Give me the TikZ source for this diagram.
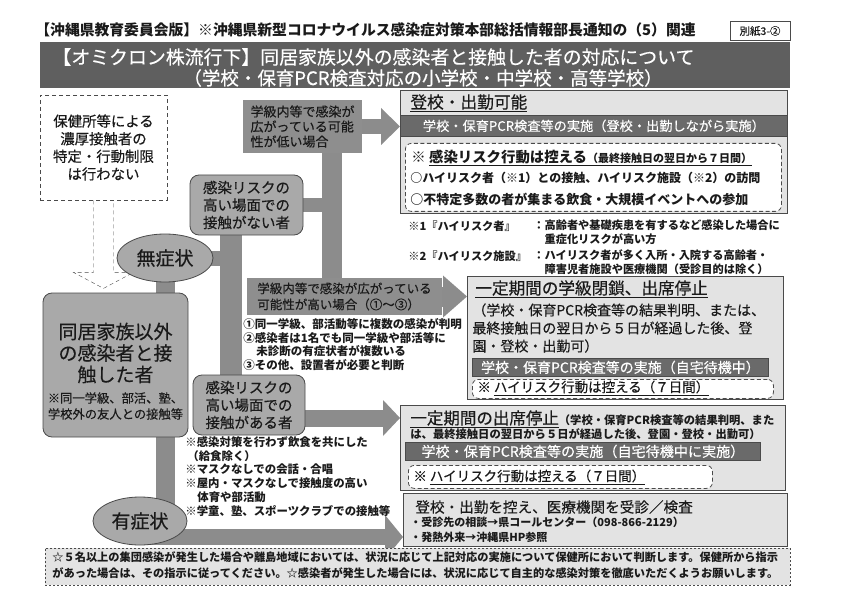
\documentclass[tikz,border=0pt]{standalone}
\usepackage{fontspec}
\setmainfont{Noto Sans CJK JP}[FakeBold=0.35, BoldFeatures={FakeBold=0}]
\usetikzlibrary{arrows.meta, shapes.geometric, calc, backgrounds}
\definecolor{cdark}{HTML}{4A4A4A}
\definecolor{cgray}{HTML}{A9A9A9}
\definecolor{cmid}{HTML}{8E8E8E}
\definecolor{cbar}{HTML}{8C8C8C}
\definecolor{clight}{HTML}{E3E3E3}
\definecolor{cband}{HTML}{6A6A6A}
\definecolor{cbanner}{HTML}{5F5F5F}
\definecolor{ctext}{HTML}{1A1A1A}
\newcommand\fsz[2]{\fontsize{#1}{#2}\selectfont}
\tikzset{
  every picture/.style={line width=0.8pt, text=ctext},
  grbox/.style={draw=cdark, fill=cgray, rounded corners=9pt, align=center, inner sep=0pt},
  oval/.style={ellipse, draw=cdark, fill=cgray, inner sep=0pt},
  casebox/.style={fill=cmid, align=left, inner sep=0pt},
  outbox/.style={draw=cdark, fill=clight, anchor=north west, inner sep=0pt},
  band/.style={draw=cdark, fill=cband, text=white, anchor=north west, inner sep=0pt},
  dashbox/.style={draw=cdark, dash pattern=on 4pt off 2.5pt, fill=white, rounded corners=6pt, anchor=north west, inner sep=0pt},
  txt/.style={anchor=west, inner sep=0pt},
  conn/.style={draw=cbar, line width=#1},
  blkhead/.style 2 args={-{Triangle[length=#1, width=#2, line width=0pt]}, },
}
\begin{document}
\begin{tikzpicture}[x=1pt, y=-1pt]
  \useasboundingbox (0,0) rectangle (843,596);

  % ---- heading
  \node[txt, font=\fsz{14.8}{16}\bfseries] (hdr) at (35,30) {【沖縄県教育委員会版】※沖縄県新型コロナウイルス感染症対策本部総括情報部長通知の（5）関連};
  \node[draw=cdark, line width=0.6pt, fill=white, minimum width=60pt, minimum height=19pt, font=\fsz{10.5}{12}] (sheet) at (760,31) {別紙3-②};
  \node[fill=cbanner, minimum width=750pt, minimum height=46pt, anchor=north west] (banner) at (40,42) {};
  \node[txt, text=white, font=\fsz{18.9}{20}] (title1) at (52,57) {【オミクロン株流行下】同居家族以外の感染者と接触した者の対応について};
  \node[text=white, inner sep=0pt, font=\fsz{18.5}{20}] (title2) at (423,78) {（学校・保育PCR検査対応の小学校・中学校・高等学校）};

  % ---- left column
  \node[draw=cdark, dash pattern=on 4pt off 3pt, minimum width=127pt, minimum height=105pt, align=center, font=\fsz{14.4}{17.6}] (hoken) at (103.5,147.5) {保健所等による\\濃厚接触者の\\特定・行動制限\\は行わない};
  \node[oval, minimum width=96pt, minimum height=48pt, font=\fsz{19}{21}] (mushou) at (165,258) {無症状};
  \node[grbox, minimum width=145pt, minimum height=144pt] (main) at (115.5,365) {};
  \node[align=center, inner sep=0pt, font=\fsz{19}{21.5}] (maint) at (115.5,353) {同居家族以外\\の感染者と接\\触した者};
  \node[align=center, inner sep=0pt, font=\fsz{12.3}{16}] (mainn) at (115.5,406) {※同一学級、部活、塾、\\学校外の友人との接触等};
  \node[oval, minimum width=94pt, minimum height=48pt, font=\fsz{19}{21}] (yushou) at (140,521) {有症状};

  % ---- risk cases
  \node[grbox, minimum width=113pt, minimum height=60pt, font=\fsz{14.5}{17.5}] (nai) at (246.5,205) {感染リスクの\\高い場面での\\接触がない者};
  \node[grbox, minimum width=112pt, minimum height=60pt, font=\fsz{14.5}{17.5}] (aru) at (249,405) {感染リスクの\\高い場面での\\接触がある者};
  \node[casebox, minimum width=119pt, minimum height=53pt, font=\fsz{13}{15}] (low) at (302.5,126.5) {学級内等で感染が\\広がっている可能\\性が低い場合};
  \node[casebox, minimum width=195pt, minimum height=37pt, font=\fsz{12.5}{16}] (high) at (344.5,296.5) {学級内等で感染が広がっている\\可能性が高い場合（①～③）};
  \node[anchor=north west, align=left, inner sep=0pt, font=\fsz{11.5}{13.6}\bfseries] (highn) at (243,318) {①同一学級、部活動等に複数の感染が判明\\②感染者は1名でも同一学級や部活等に\\\hspace{13pt}未診断の有症状者が複数いる\\③その他、設置者が必要と判断};
  \node[anchor=north west, align=left, inner sep=0pt, font=\fsz{11.4}{13.8}\bfseries] (arun) at (185,436) {※感染対策を行わず飲食を共にした\\\hspace{2pt}（給食除く）\\※マスクなしでの会話・合唱\\※屋内・マスクなしで接触度の高い\\\hspace{12pt}体育や部活動\\※学童、塾、スポーツクラブでの接触等};

  % ---- attend
  \node[outbox, minimum width=387pt, minimum height=123pt] (ok) at (400,90) {};
  \node[txt, font=\fsz{16.7}{18}] (okt) at (410,103) {\underline{登校・出勤可能}};
  \node[band, minimum width=387pt, minimum height=21pt, font=\fsz{13.2}{15}] (okb) at (400,115) {学校・保育PCR検査等の実施（登校・出勤しながら実施）};
  \node[dashbox, minimum width=376pt, minimum height=68pt] (okd) at (405,143) {};
  \node[txt] (okd1) at (411,158) {\fsz{14.4}{16}\bfseries ※ \underline{感染リスク行動は控える}\fsz{11}{13}\underline{（最終接触日の翌日から７日間）}};
  \node[txt, font=\fsz{12}{14}\bfseries] (okd2) at (410,178) {○ハイリスク者（※1）との接触、ハイリスク施設（※2）の訪問};
  \node[txt, font=\fsz{13}{15}\bfseries] (okd3) at (410,199) {○不特定多数の者が集まる飲食・大規模イベントへの参加};
  \node[txt, font=\fsz{11.2}{13}\bfseries] (n1) at (408,226) {※1『ハイリスク者』};
  \node[anchor=north west, align=left, inner sep=0pt, font=\fsz{11.2}{14.5}\bfseries] (n1d) at (533,219) {：高齢者や基礎疾患を有するなど感染した場合に\\\hspace{11.2pt}重症化リスクが高い方};
  \node[txt, font=\fsz{11.2}{13}\bfseries] (n2) at (408,256) {※2『ハイリスク施設』};
  \node[anchor=north west, align=left, inner sep=0pt, font=\fsz{11.2}{14.5}\bfseries] (n2d) at (533,249) {：ハイリスク者が多く入所・入院する高齢者・\\\hspace{11.2pt}障害児者施設や医療機関（受診目的は除く）};

  % ---- class closure
  \node[outbox, minimum width=316pt, minimum height=123pt] (closure) at (467,276) {};
  \node[txt, font=\fsz{16.6}{18}] (clt) at (475,289) {\underline{一定期間の学級閉鎖、出席停止}};
  \node[anchor=north west, align=left, inner sep=0pt, font=\fsz{14}{18}] (clx) at (472,303) {（学校・保育PCR検査等の結果判明、または、\\最終接触日の翌日から５日が経過した後、登\\園・登校・出勤可）};
  \node[band, minimum width=296pt, minimum height=18pt, font=\fsz{14}{15}] (clb) at (472,358) {学校・保育PCR検査等の実施（自宅待機中）};
  \node[dashbox, minimum width=301pt, minimum height=19pt] (cld) at (472,379) {};
  \node[txt, font=\fsz{13.5}{15}] (cld1) at (477,388) {※ \underline{ハイリスク行動は控える（７日間）}};

  % ---- stay home
  \node[outbox, minimum width=385pt, minimum height=85pt] (stop) at (400,405) {};
  \node[txt] (stt) at (410,419) {\fsz{16.5}{18}\underline{一定期間の出席停止}\fsz{11.3}{13}\bfseries（学校・保育PCR検査等の結果判明、また};
  \node[txt, font=\fsz{11.3}{13}\bfseries] (stx) at (410,434) {は、最終接触日の翌日から５日が経過した後、登園・登校・出勤可）};
  \node[band, minimum width=355pt, minimum height=18pt, font=\fsz{14.1}{15}] (stb) at (405,442) {学校・保育PCR検査等の実施（自宅待機中に実施）};
  \node[dashbox, minimum width=304pt, minimum height=23pt] (std) at (408,465) {};
  \node[txt, font=\fsz{13.5}{15}] (std1) at (413,477) {※ \underline{ハイリスク行動は控える（７日間）}};

  % ---- symptoms
  \node[outbox, minimum width=384pt, minimum height=53pt] (consult) at (403,493) {};
  \node[txt, font=\fsz{14.6}{16}] (cot) at (415,507) {登校・出勤を控え、医療機関を受診／検査};
  \node[txt, font=\fsz{11}{13}\bfseries] (co1) at (410,522) {・受診先の相談→県コールセンター（098-866-2129）};
  \node[txt, font=\fsz{11}{13}\bfseries] (co2) at (410,537) {・発熱外来→沖縄県HP参照};

  \node[draw=cdark, dash pattern=on 2pt off 2pt, fill=clight, minimum width=745pt, minimum height=37pt, anchor=north west] (foot) at (45,548) {};
  \node[anchor=north west, align=left, inner sep=0pt, font=\fsz{11.2}{16.5}\bfseries] (footx) at (52,551) {☆５名以上の集団感染が発生した場合や離島地域においては、状況に応じて上記対応の実施について保健所において判断します。保健所から指示\\があった場合は、その指示に従ってください。☆感染者が発生した場合には、状況に応じて自主的な感染対策を徹底いただくようお願いします。};

  % ---- connectors behind the boxes
  \begin{scope}[on background layer]
    \fill[white] (0,0) rectangle (843,596);
    \draw[draw=cdark, dash pattern=on 4pt off 3pt, fill=white] ([xshift=-10pt]hoken.south) -- ++(0,72) -- ++(-20,0) -- ($(hoken.south)+(0,88)$) -- ++(30,-16) -- ++(-20,0) -- ++(0,-72);
    \coordinate (vb2) at (231,0);
    \coordinate (vb3) at (332,0);
    \draw[conn=19pt] (mushou.center) -- (mushou.center |- yushou.center);
    \draw[conn=15pt] (mushou.center) -- (mushou.center -| vb2);
    \draw[conn=22pt] (nai.center -| vb2) -- (aru.center -| vb2);
    \draw[conn=14pt] (nai.center) -- (nai.center -| vb3);
    \draw[conn=20pt] (low.center -| vb3) -- (high.center -| vb3);
    \draw[conn=15pt, blkhead={19pt}{37pt}] (low.center) -- (low.center -| ok.west);
    \draw[conn=20pt, blkhead={24pt}{42pt}] (high.center) -- (high.center -| closure.west);
    \coordinate (aruout) at ($(aru.center)+(0,13)$);
    \draw[conn=17pt, blkhead={17pt}{36pt}] (aruout) -- (aruout -| stop.west);
    \coordinate (yuout) at ($(yushou.center)+(0,16)$);
    \draw[conn=16pt, blkhead={18pt}{44pt}] (yuout) -- (yuout -| consult.west);
  \end{scope}
\end{tikzpicture}
\end{document}
